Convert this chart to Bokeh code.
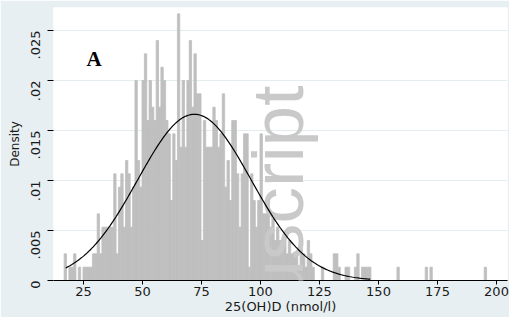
import math
from bokeh.plotting import figure
from bokeh.models import Range1d, FixedTicker, Label, ColumnDataSource
from bokeh.embed import file_html
from bokeh.resources import INLINE

# ---- data ----
bin_start = 16.8      # left edge of first bin (nmol/l)
bin_width = 1.0
n_obs = 750           # one observation = one bar step of ~0.00133 density
counts = [
    2, 0, 1, 1, 2, 0, 1, 0, 1, 1, 1, 1, 2, 2,            # 17-30
    5, 2, 4, 4, 4, 4, 4, 8, 2, 7,                        # 31-40
    8, 4, 9, 8, 4, 7, 15, 9, 7, 15,                      # 41-50
    17, 12, 15, 13, 12, 18, 13, 16, 15, 12,              # 51-60
    11, 6, 11, 9, 20, 10, 15, 10, 15, 18,                # 61-70
    13, 17, 14, 14, 3, 12, 10, 10, 10, 13,               # 71-80
    12, 10, 11, 14, 7, 9, 6, 12, 12, 8,                  # 81-90
    4, 8, 11, 11, 1, 8, 6, 4, 6, 11,                     # 91-100
    5, 5, 6, 4, 5, 3, 4, 3, 3, 3,                        # 101-110
    2, 3, 2, 2, 2, 1, 3, 2, 1, 3,                        # 111-120
    2, 1, 0, 0, 0, 1, 0, 0, 0, 0,                        # 121-130
    2, 2, 1, 0, 0, 1, 1, 0, 0, 1,                        # 131-140
    2, 0, 1, 1, 1, 1, 0, 0, 0, 0,                        # 141-150
    0, 0, 0, 0, 0, 0, 0, 1, 0, 0,                        # 151-160
    0, 0, 0, 0, 0, 0, 0, 0, 0, 1,                        # 161-170
    0, 1, 0, 0, 0, 0, 0, 0, 0, 0,                        # 171-180
    0, 0, 0, 0, 0, 0, 0, 0, 0, 0,                        # 181-190
    0, 0, 0, 0, 1,                                       # 191-195
]

# fitted normal curve parameters (peak ~0.0166 at ~72)
normal_mean = 72.0
normal_sd = 24.0
curve_from = 17.5
curve_to = 146.5

x_ticks = [25, 50, 75, 100, 125, 150, 175, 200]
x_tick_labels = ["25", "50", "75", "100", "125", "150", "175", "200"]
y_ticks = [0, 0.005, 0.01, 0.015, 0.02, 0.025]
y_tick_labels = ["0", ".005", ".01", ".015", ".02", ".025"]

x_title = "25(OH)D (nmol/l)"
y_title = "Density"
panel_label = "A"
watermark = "manuscript"

# ---- build ----
left = [bin_start + i * bin_width for i in range(len(counts))]
right = [l + bin_width for l in left]
dens = [c / (n_obs * bin_width) for c in counts]
bars = ColumnDataSource(dict(left=left, right=right, top=dens))

steps = 200
cx = [curve_from + (curve_to - curve_from) * i / steps for i in range(steps + 1)]
cy = [math.exp(-0.5 * ((x - normal_mean) / normal_sd) ** 2) / (normal_sd * math.sqrt(2 * math.pi)) for x in cx]

BG = "#e8eff2"
FONT = "DejaVu Sans"
W, H = 509, 317

p = figure(width=W, height=H, output_backend="svg", toolbar_location=None,
           x_range=Range1d(12.29, 204.66), y_range=Range1d(0, 0.0273),
           min_border_left=53, min_border_right=2, min_border_top=7, min_border_bottom=37)
p.background_fill_color = "white"
p.border_fill_color = BG
p.outline_line_color = None

p.quad(left="left", right="right", top="top", bottom=0, source=bars,
       fill_color="#bfbfbf", line_color="#bfbfbf", line_width=0.8)

# watermark (screen units are measured from the frame's lower-left corner)
wm = Label(x=224, y=195, x_units="screen", y_units="screen",
           text=watermark, angle=math.pi / 2,
           text_align="right", text_baseline="alphabetic",
           text_font="Liberation Sans", text_font_size="73px",
           text_color="#c9c9c9")
p.add_layout(wm)

r = p.line(cx, cy, line_color="black", line_width=1.2)
r.level = "overlay"

lab = Label(x=26.27, y=0.0222, text=panel_label, text_font="Liberation Serif",
            text_font_style="bold", text_font_size="21px", text_color="black",
            text_baseline="alphabetic", text_align="left")
p.add_layout(lab)

# grid
p.xgrid.grid_line_color = None
p.ygrid.ticker = FixedTicker(ticks=y_ticks)
p.ygrid.grid_line_color = "#e3ecef"
p.ygrid.grid_line_width = 1

# x axis
xa = p.xaxis[0]
xa.ticker = FixedTicker(ticks=x_ticks)
xa.major_label_overrides = {t: s for t, s in zip(x_ticks, x_tick_labels)}
xa.axis_line_color = "black"
xa.axis_line_width = 1.2
xa.major_tick_line_color = "black"
xa.major_tick_out = 4
xa.major_tick_in = 0
xa.minor_tick_line_color = None
xa.major_label_text_font = FONT
xa.major_label_text_font_size = "13px"
xa.major_label_text_color = "#1a1a1a"
xa.major_label_standoff = 2
xa.axis_label = x_title
xa.axis_label_text_font = FONT
xa.axis_label_text_font_size = "13px"
xa.axis_label_text_font_style = "normal"
xa.axis_label_text_color = "#1a1a1a"
xa.axis_label_standoff = 0

# y axis
ya = p.yaxis[0]
ya.ticker = FixedTicker(ticks=y_ticks)
ya.major_label_overrides = {t: s for t, s in zip(y_ticks, y_tick_labels)}
ya.axis_line_color = None
ya.major_tick_line_color = "black"
ya.major_tick_out = 6
ya.major_tick_in = 0
ya.minor_tick_line_color = None
ya.major_label_orientation = math.pi / 2
ya.major_label_text_font = FONT
ya.major_label_text_font_size = "13px"
ya.major_label_text_color = "#1a1a1a"
ya.major_label_standoff = 12
ya.axis_label = y_title
ya.axis_label_text_font = FONT
ya.axis_label_text_font_size = "12px"
ya.axis_label_text_font_style = "normal"
ya.axis_label_text_color = "#1a1a1a"
ya.axis_label_standoff = 2

open("out.html", "w").write(file_html(p, INLINE))
